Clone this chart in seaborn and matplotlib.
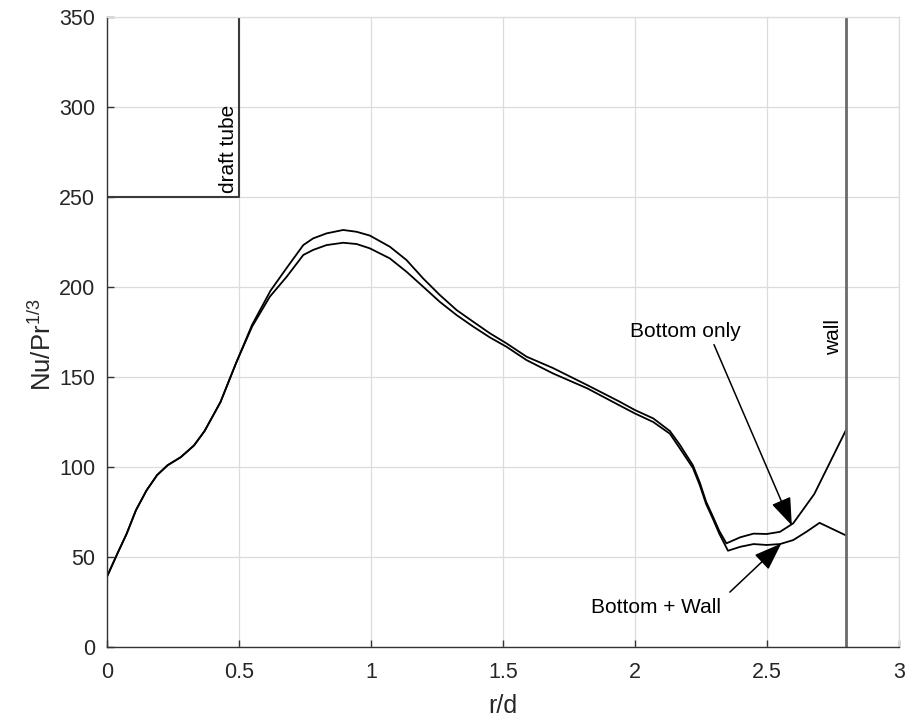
import numpy as np
import pandas as pd
import matplotlib
matplotlib.use("Agg")
import matplotlib.pyplot as plt
import seaborn as sns

# ---- data ----
x_bottom_only = [0, 0.04, 0.075, 0.11, 0.15, 0.19, 0.23, 0.28, 0.33, 0.37, 0.43, 0.49, 0.55,
                 0.62, 0.68, 0.744, 0.781, 0.832, 0.895, 0.946, 0.996, 1.072, 1.135, 1.198,
                 1.261, 1.325, 1.388, 1.451, 1.514, 1.59, 1.69, 1.82, 1.94, 2.0, 2.07, 2.133,
                 2.17, 2.22, 2.246, 2.27, 2.295, 2.32, 2.347, 2.40, 2.45, 2.50, 2.55, 2.60,
                 2.68, 2.80]
y_bottom_only = [39, 52, 63, 76, 87, 95.5, 101, 105.5, 112, 120, 136, 158, 179,
                 198, 210.4, 223.3, 227, 229.8, 231.7, 230.7, 228.6, 222.4, 215, 204.8,
                 195.6, 187.2, 180.7, 174.3, 168.7, 161.3, 155, 145.5, 136.5, 131.7, 127, 120,
                 112.5, 101, 91.5, 80.8, 72.8, 64.5, 57.6, 61, 63, 62.8, 64, 68.7,
                 85, 120.5]

x_bottom_wall = [0, 0.04, 0.075, 0.11, 0.15, 0.19, 0.23, 0.28, 0.33, 0.37, 0.43, 0.49, 0.55,
                 0.617, 0.681, 0.744, 0.781, 0.832, 0.895, 0.946, 0.996, 1.072, 1.135, 1.198,
                 1.261, 1.325, 1.388, 1.451, 1.514, 1.59, 1.69, 1.82, 1.94, 2.0, 2.07, 2.133,
                 2.17, 2.22, 2.246, 2.27, 2.295, 2.32, 2.353, 2.40, 2.45, 2.50, 2.55, 2.60,
                 2.65, 2.70, 2.80]
y_bottom_wall = [39, 52, 63, 76, 87, 95.5, 101, 105.5, 112, 120, 136, 158, 178,
                 194.6, 205.7, 217.8, 220.6, 223.3, 224.6, 223.9, 221.5, 215.9, 208.5, 200.2,
                 191.8, 184.4, 178, 172, 166.8, 159.4, 152, 143.7, 134.4, 129.8, 125, 118.5,
                 110.5, 99.5, 90, 79.5, 71.5, 63, 53.5, 55.7, 57.2, 56.7, 57.2, 59.4,
                 64, 69, 62]

draft_tube_x = [0, 0.5, 0.5]
draft_tube_y = [250, 250, 350]
wall_x = [2.8, 2.8]
wall_y = [0, 350]

x_ticks = [0, 0.5, 1, 1.5, 2, 2.5, 3]
x_tick_labels = ["0", "0.5", "1", "1.5", "2", "2.5", "3"]
y_ticks = [0, 50, 100, 150, 200, 250, 300, 350]

df = pd.concat([
    pd.DataFrame({"x": x_bottom_only, "y": y_bottom_only, "case": "Bottom only"}),
    pd.DataFrame({"x": x_bottom_wall, "y": y_bottom_wall, "case": "Bottom + Wall"}),
])

sns.set_theme(style="white")
plt.rcParams["font.family"] = ["Liberation Sans", "DejaVu Sans"]
plt.rcParams["mathtext.default"] = "regular"

fig = plt.figure(figsize=(9.06, 7.19), dpi=100)
ax = fig.add_axes([0.118, 0.1001, 0.874, 0.8762])

sns.lineplot(data=df, x="x", y="y", hue="case", palette=["black", "black"],
             sort=False, estimator=None, legend=False, linewidth=1.3, ax=ax)

ax.plot(draft_tube_x, draft_tube_y, color="#3a3a3a", linewidth=1.5)
ax.plot(wall_x, wall_y, color="#6a6a6a", linewidth=2.0)

ax.text(0.462, 277, "draft tube", rotation=90, ha="center", va="center",
        fontsize=15, color="black")
ax.text(2.752, 172, "wall", rotation=90, ha="center", va="center",
        fontsize=15, color="black")

# annotation texts
ax.text(2.19, 175.5, "Bottom only", ha="center", va="center", fontsize=15, color="black")
ax.text(2.08, 22, "Bottom + Wall", ha="center", va="center", fontsize=15, color="black")

# annotation arrows
arrow_style = "-|>,head_length=1.15,head_width=0.42"
ax.annotate("", xy=(2.595, 67.5), xytext=(2.30, 168),
            arrowprops=dict(arrowstyle=arrow_style, color="black", lw=1.1,
                            shrinkA=0, shrinkB=0, mutation_scale=15))
ax.annotate("", xy=(2.555, 57.5), xytext=(2.36, 30.5),
            arrowprops=dict(arrowstyle=arrow_style, color="black", lw=1.1,
                            shrinkA=0, shrinkB=0, mutation_scale=15))

ax.set_xlim(0, 3)
ax.set_ylim(0, 350)
ax.set_xticks(x_ticks)
ax.set_xticklabels(x_tick_labels)
ax.set_yticks(y_ticks)
ax.grid(True, color="#dcdcdc", linewidth=0.9)
ax.set_axisbelow(True)

for s in ["left", "bottom"]:
    ax.spines[s].set_color("#333333")
    ax.spines[s].set_linewidth(1.0)
for s in ["top", "right"]:
    ax.spines[s].set_color("#dcdcdc")
    ax.spines[s].set_linewidth(0.9)

ax.tick_params(axis="both", direction="in", length=5, width=1.0, color="#333333",
               labelsize=15.5, labelcolor="#262626", top=False, right=False,
               bottom=True, left=True)
ax.tick_params(axis="x", pad=10.5)
ax.tick_params(axis="y", pad=8.5)

ax.set_xlabel("r/d", fontsize=18, color="#262626", va="center")
ax.xaxis.set_label_coords(0.5, -0.093)
ax.set_ylabel("Nu/Pr$^{1/3}$", fontsize=18.5, color="#262626", va="center")
ax.yaxis.set_label_coords(-0.081, 0.48)

fig.savefig("out.png", dpi=100)
